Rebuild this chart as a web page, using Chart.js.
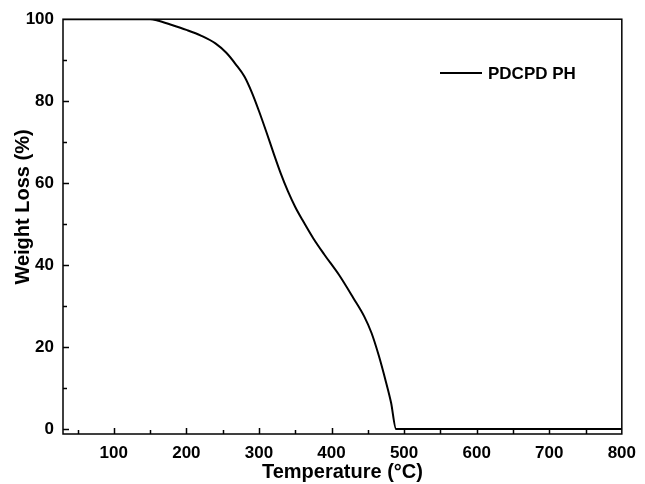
<!DOCTYPE html>
<html>
<head>
<meta charset="utf-8">
<script src="https://cdn.jsdelivr.net/npm/chart.js@4.4.1/dist/chart.umd.min.js"></script>
<style>
  html, body { margin: 0; padding: 0; background: #fff; }
  #wrap { width: 645px; height: 484px; }
</style>
</head>
<body>
<div id="wrap"><canvas id="c" width="645" height="484"></canvas></div>
<script>
// TGA curve
const temperature = [30, 100, 150, 160, 180, 200, 220, 240, 255, 268, 280, 290, 300, 310, 320, 330, 340, 350, 360, 375, 390, 410, 430, 445, 455, 465, 475, 482, 489, 500, 600, 700, 800];
const weightLoss  = [100, 100, 100, 99.7, 98.6, 97.4, 96.0, 94.1, 91.8, 89.0, 86.0, 82.2, 77.6, 72.6, 67.4, 62.4, 58.0, 54.2, 51.0, 46.5, 42.6, 37.7, 32.0, 27.5, 23.5, 18.0, 11.5, 6.5, 0, 0, 0, 0, 0];
const xTicks = [100, 200, 300, 400, 500, 600, 700, 800];
const yTicks = [0, 20, 40, 60, 80, 100];
const seriesLabel = "PDCPD PH";
const xTitle = "Temperature (°C)";
const yTitle = "Weight Loss (%)";

const FONT = "'Liberation Sans', Arial, sans-serif";

// frame, inward ticks (major + minor), axis titles and the legend
const framePlugin = {
  id: "frame",
  afterDraw(chart) {
    const { ctx, chartArea: a, scales } = chart;
    const xs = scales.x, ys = scales.y;
    ctx.save();
    ctx.strokeStyle = "#000";
    ctx.lineWidth = 1.5;
    ctx.strokeRect(a.left, a.top, a.right - a.left, a.bottom - a.top);

    ctx.beginPath();
    for (let v = 50; v < 800; v += 50) {
      const px = Math.round(xs.getPixelForValue(v)) + 0.5;
      const len = v % 100 === 0 ? 6 : 4;
      ctx.moveTo(px, a.bottom);
      ctx.lineTo(px, a.bottom - len);
    }
    for (let v = 0; v < 100; v += 10) {
      const py = Math.round(ys.getPixelForValue(v)) + 0.5;
      const len = v % 20 === 0 ? 6 : 4;
      ctx.moveTo(a.left, py);
      ctx.lineTo(a.left + len, py);
    }
    ctx.stroke();

    ctx.fillStyle = "#000";
    ctx.font = "bold 20px " + FONT;
    ctx.textAlign = "center";
    ctx.textBaseline = "alphabetic";
    ctx.fillText(xTitle, (a.left + a.right) / 2, 478);

    ctx.save();
    ctx.translate(23, 207);
    ctx.rotate(-Math.PI / 2);
    ctx.textBaseline = "middle";
    ctx.fillText(yTitle, 0, 0);
    ctx.restore();

    // legend
    const ly = 73;
    ctx.lineWidth = 2;
    ctx.beginPath();
    ctx.moveTo(440, ly);
    ctx.lineTo(482, ly);
    ctx.stroke();
    ctx.font = "bold 17px " + FONT;
    ctx.textBaseline = "middle";
    ctx.textAlign = "left";
    ctx.fillText(chart.data.datasets[0].label, 488, ly + 1);
    ctx.restore();
  }
};

new Chart(document.getElementById("c"), {
  type: "line",
  data: {
    datasets: [{
      label: seriesLabel,
      data: temperature.map((t, i) => ({ x: t, y: weightLoss[i] })),
      borderColor: "#000",
      borderWidth: 2,
      pointRadius: 0,
      fill: false,
      cubicInterpolationMode: "monotone"
    }]
  },
  options: {
    responsive: false,
    animation: false,
    devicePixelRatio: 1,
    layout: { padding: { top: 19, right: 17, left: 0, bottom: 0 } },
    plugins: { legend: { display: false }, tooltip: { enabled: false } },
    scales: {
      x: {
        type: "linear",
        min: 30,
        max: 800,
        afterBuildTicks: (s) => { s.ticks = xTicks.map(v => ({ value: v })); },
        afterFit: (s) => { s.height = 50; },
        grid: { display: false, drawTicks: false },
        border: { display: false },
        ticks: {
          color: "#000",
          padding: 9,
          font: { family: FONT, size: 17, weight: "bold" },
          maxRotation: 0
        }
      },
      y: {
        type: "linear",
        min: -1.2,
        max: 100,
        afterBuildTicks: (s) => { s.ticks = yTicks.map(v => ({ value: v })); },
        afterFit: (s) => { s.width = 63; },
        grid: { display: false, drawTicks: false },
        border: { display: false },
        ticks: {
          color: "#000",
          padding: 9,
          font: { family: FONT, size: 17, weight: "bold" }
        }
      }
    }
  },
  plugins: [framePlugin]
});
</script>
</body>
</html>
